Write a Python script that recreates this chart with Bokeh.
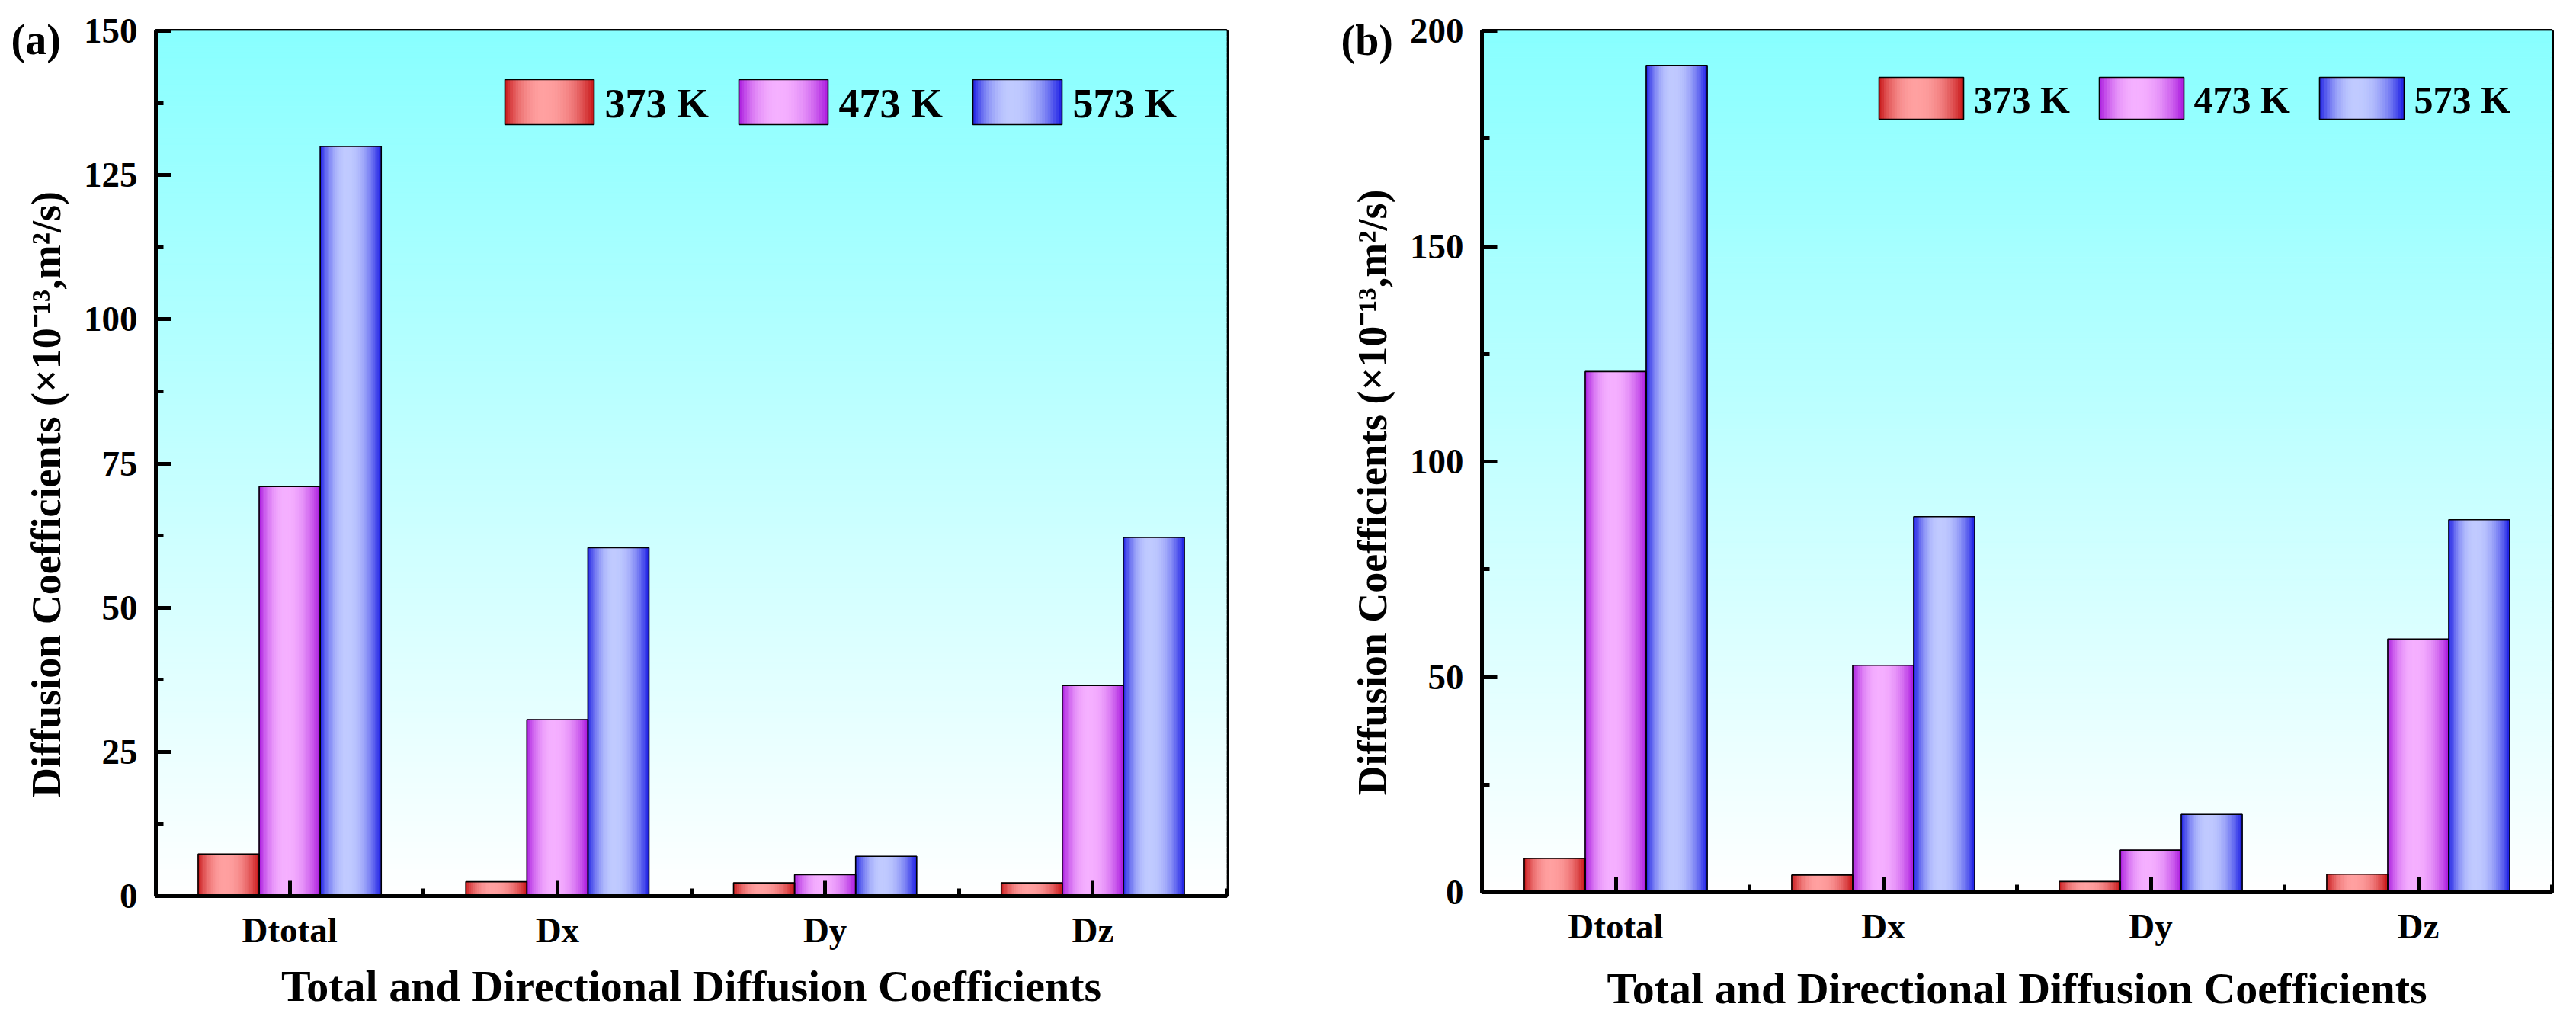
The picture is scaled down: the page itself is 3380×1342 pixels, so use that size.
import numpy as np
from bokeh.plotting import figure
from bokeh.layouts import row
from bokeh.models import Range1d, FixedTicker
from bokeh.core.properties import value
from bokeh.embed import file_html
from bokeh.resources import INLINE

# ---------------- data ----------------
categories = ["Dtotal", "Dx", "Dy", "Dz"]
series_names = ["373 K", "473 K", "573 K"]

a_373 = [7.3, 2.5, 2.3, 2.3]
a_473 = [71.0, 30.6, 3.7, 36.5]
a_573 = [130.0, 60.4, 6.9, 62.2]

b_373 = [7.9, 4.0, 2.5, 4.2]
b_473 = [120.9, 52.7, 9.8, 58.8]
b_573 = [192.0, 87.2, 18.1, 86.5]

a_yticks = [0, 25, 50, 75, 100, 125, 150]
a_yminor = [12.5, 37.5, 62.5, 87.5, 112.5, 137.5]
b_yticks = [0, 50, 100, 150, 200]
b_yminor = [25, 75, 125, 175]

x_title = "Total and Directional Diffusion Coefficients"
y_title = "Diffusion Coefficients (×10⁻¹³,m²/s)"

# ---------------- style ----------------
FONT = "Liberation Serif"
PALETTES = [((200, 22, 24), (255, 160, 160)),
            ((170, 26, 222), (245, 176, 255)),
            ((28, 30, 228), (192, 202, 255))]
BG_TOP = (136, 255, 255)
BG_BOTTOM = (255, 255, 255)
BW = 0.228
NSTRIP = 32
YPAD = "\u00a0" * 6   # shifts the centred y title slightly downward, as in the original


def hexc(c):
    return "#%02x%02x%02x" % tuple(int(round(v)) for v in c)


def shade(t, dark, light, peak=0.44):
    d = (t - peak) / peak if t < peak else (t - peak) / (1 - peak)
    f = 1 - abs(d) ** 2.2
    return hexc([dk + f * (lt - dk) for dk, lt in zip(dark, light)])


def make_panel(vals_list, ymax, yticks, yminor, fw, fh, mbl, mbt, mbr, mbb,
               tag, tag_offset, tag_standoff, leg_left, leg_top, leg_w, leg_h, leg_stride,
               leg_gap, leg_font, xl_standoff, xt_standoff):
    x0, x1 = -0.5, len(categories) - 0.5
    p = figure(frame_width=fw, frame_height=fh, min_border_left=mbl, min_border_top=mbt,
               min_border_right=mbr, min_border_bottom=mbb,
               x_range=Range1d(x0, x1), y_range=Range1d(0, ymax),
               output_backend="svg", toolbar_location=None,
               background_fill_color="white", border_fill_color="white")

    def fx(px):
        return x0 + px / fw * (x1 - x0)

    def fy(py):
        return ymax - py / fh * ymax

    # background vertical gradient (cyan at top -> white at bottom)
    nb = 160
    edges = np.linspace(0, ymax, nb + 1)
    bcols = []
    for k in range(nb):
        frac = (k + 0.5) / nb
        bcols.append(hexc([b + frac * (t - b) for t, b in zip(BG_TOP, BG_BOTTOM)]))
    p.quad(left=x0, right=x1, bottom=edges[:-1], top=edges[1:],
           fill_color=bcols, line_color=bcols, line_width=1)

    # gradient bars (strips), then outlines
    for k, vals in enumerate(vals_list):
        dark, light = PALETTES[k]
        xs, tops, cols = [], [], []
        for i, v in enumerate(vals):
            c = i + (k - 1) * BW
            for j in range(NSTRIP):
                t = (j + 0.5) / NSTRIP
                xs.append(c - BW / 2 + t * BW)
                tops.append(v)
                cols.append(shade(t, dark, light))
        p.vbar(x=xs, width=BW / NSTRIP, top=tops, bottom=0,
               fill_color=cols, line_color=cols, line_width=1)
    for k, vals in enumerate(vals_list):
        p.vbar(x=[i + (k - 1) * BW for i in range(len(vals))], width=BW, top=vals, bottom=0,
               fill_alpha=0, line_color="black", line_width=1.6)

    # legend (gradient swatches + text)
    for k, name in enumerate(series_names):
        dark, light = PALETTES[k]
        lx = leg_left + k * leg_stride
        lefts, rights, cols = [], [], []
        for j in range(NSTRIP):
            t0, t1 = j / NSTRIP, (j + 1) / NSTRIP
            lefts.append(fx(lx + t0 * leg_w))
            rights.append(fx(lx + t1 * leg_w))
            cols.append(shade((t0 + t1) / 2, dark, light))
        p.quad(left=lefts, right=rights, bottom=fy(leg_top + leg_h), top=fy(leg_top),
               fill_color=cols, line_color=cols, line_width=1)
        p.quad(left=fx(lx), right=fx(lx + leg_w), bottom=fy(leg_top + leg_h), top=fy(leg_top),
               fill_alpha=0, line_color="black", line_width=1.6)
        p.text(x=[fx(lx + leg_w + leg_gap)], y=[fy(leg_top + leg_h / 2 + 2)], text=[name],
               text_font=value(FONT), text_font_style="bold", text_font_size=leg_font,
               text_baseline="middle", text_align="left", text_color="black")

    # panel tag as the figure title, pulled left of the frame and down beside its top edge
    p.title.text = tag
    p.title.align = "left"
    p.title.offset = tag_offset
    p.title.vertical_align = "bottom"
    p.title.standoff = tag_standoff
    p.title.text_font = FONT
    p.title.text_font_style = "bold"
    p.title.text_font_size = "56px"
    p.title.text_color = "black"

    # axes
    p.xgrid.visible = False
    p.ygrid.visible = False
    p.outline_line_color = "black"
    p.outline_line_width = 5
    p.outline_line_alpha = 1

    p.xaxis.ticker = FixedTicker(ticks=list(range(len(categories))),
                                 minor_ticks=[i - 0.5 for i in range(len(categories) + 1)])
    p.xaxis.major_label_overrides = {i: c for i, c in enumerate(categories)}
    p.yaxis.ticker = FixedTicker(ticks=yticks, minor_ticks=yminor)

    for ax in (p.xaxis[0], p.yaxis[0]):
        ax.axis_line_width = 5
        ax.axis_line_color = "black"
        ax.major_tick_in = 20
        ax.major_tick_out = 0
        ax.minor_tick_in = 10
        ax.minor_tick_out = 0
        ax.major_tick_line_width = 5
        ax.minor_tick_line_width = 5
        ax.major_tick_line_color = "black"
        ax.minor_tick_line_color = "black"
        ax.major_label_text_font = FONT
        ax.major_label_text_font_style = "bold"
        ax.major_label_text_font_size = "47px"
        ax.major_label_text_color = "black"
        ax.axis_label_text_font = FONT
        ax.axis_label_text_font_style = "bold"
        ax.axis_label_text_color = "black"

    p.xaxis.axis_label = x_title
    p.xaxis.axis_label_text_font_size = "58px"
    p.xaxis.major_label_standoff = xt_standoff
    p.xaxis.axis_label_standoff = xl_standoff
    p.yaxis.axis_label = y_title + YPAD
    p.yaxis.axis_label_text_font_size = "54px"
    p.yaxis.major_label_standoff = 24
    p.yaxis.axis_label_standoff = 16
    return p


pa = make_panel([a_373, a_473, a_573], 150, a_yticks, a_yminor,
                1405, 1135, 204, 40, 73, 151,
                "(a)", -190, -84, 458, 64, 117, 59, 307, 14, "54px", 12, 18)
pb = make_panel([b_373, b_473, b_573], 200, b_yticks, b_yminor,
                1404, 1130, 262, 34, 16, 162,
                "(b)", -185, -86, 521, 61, 111, 55, 289, 13, "50px", 20, 18)

layout = row(pa, pb)
open("out.html", "w").write(file_html(layout, INLINE))
